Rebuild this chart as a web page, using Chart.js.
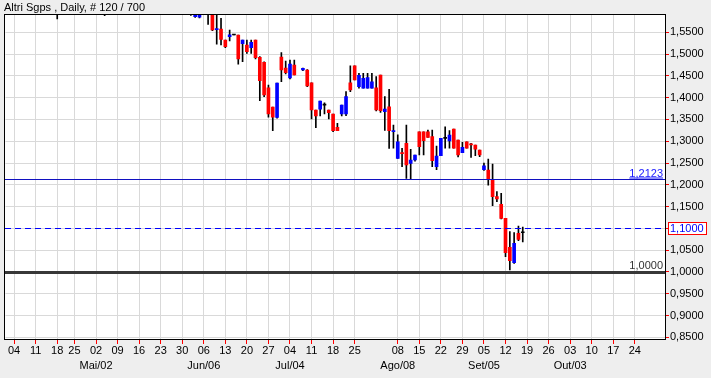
<!DOCTYPE html>
<html>
<head>
<meta charset="utf-8">
<script src="https://cdn.jsdelivr.net/npm/chart.js@4/dist/chart.umd.min.js"></script>
<style>
  html, body { margin: 0; padding: 0; background: #eeeeee; }
  canvas { display: block; }
</style>
</head>
<body>
<canvas id="candles" width="711" height="378"></canvas>
<script>
// trading days shown on the axis (2011)
var tradingDays = {
    '2011-03': [31],
    '2011-04': [1, 4, 5, 6, 7, 8, 11, 12, 13, 14, 15, 18, 19, 20, 21, 25, 26, 27, 28, 29],
    '2011-05': [2, 3, 4, 5, 6, 9, 10, 11, 12, 13, 16, 17, 18, 19, 20, 23, 24, 25, 26, 27, 30, 31],
    '2011-06': [1, 2, 3, 6, 7, 8, 9, 10, 13, 14, 15, 16, 17, 20, 21, 22, 23, 24, 27, 28, 29, 30],
    '2011-07': [1, 4, 5, 6, 7, 8, 11, 12, 13, 14, 15, 18, 19, 20, 21, 22, 25, 26, 27, 28, 29],
    '2011-08': [1, 2, 3, 4, 5, 8, 9, 10, 11, 12, 15, 16, 17, 18, 19, 22, 23, 24, 25, 26, 29, 30, 31],
    '2011-09': [1, 2, 5, 6, 7, 8, 9, 12, 13, 14, 15, 16, 19, 20, 21, 22, 23, 26, 27, 28, 29, 30],
    '2011-10': [3, 4, 5, 6, 7, 10, 11, 12, 13, 14, 17, 18, 19, 20, 21, 24, 25, 26, 27, 28, 31],
    '2011-11': [1, 2]
};

// labelled ticks (Mondays) and month captions
var tickDates = ['2011-04-04', '2011-04-11', '2011-04-18', '2011-04-25',
    '2011-05-02', '2011-05-09', '2011-05-16', '2011-05-23', '2011-05-30',
    '2011-06-06', '2011-06-13', '2011-06-20', '2011-06-27',
    '2011-07-04', '2011-07-11', '2011-07-18', '2011-07-25',
    '2011-08-08', '2011-08-15', '2011-08-22', '2011-08-29',
    '2011-09-05', '2011-09-12', '2011-09-19', '2011-09-26',
    '2011-10-03', '2011-10-10', '2011-10-17', '2011-10-24'];
var monthTickDates = ['2011-05-02', '2011-06-06', '2011-07-04', '2011-08-08', '2011-09-05', '2011-10-03'];
var monthTickNames = ['Mai/02', 'Jun/06', 'Jul/04', 'Ago/08', 'Set/05', 'Out/03'];

var yTicks = [0.85, 0.90, 0.95, 1.00, 1.05, 1.10, 1.15, 1.20, 1.25, 1.30, 1.35, 1.40, 1.45, 1.50, 1.55];
var refLevels = [1.2123, 1.1000, 1.0000];

// OHLC, one entry per day starting 2011-04-01 (120 bars)
var opens = [
    1.650, 1.655, 1.660, 1.672, 1.665, 1.645, 1.630, 1.615, 1.625, 1.640,
    1.625, 1.615, 1.600, 1.620, 1.635, 1.645, 1.650, 1.665, 1.655, 1.640,
    1.625, 1.630, 1.605, 1.598, 1.620, 1.640, 1.655, 1.670, 1.680, 1.670,
    1.655, 1.660, 1.668, 1.660, 1.645, 1.650, 1.645, 1.630, 1.620, 1.630,
    1.615, 1.605, 1.600, 1.586, 1.585, 1.600, 1.610, 1.600, 1.556, 1.5576,
    1.5323, 1.540, 1.5438, 1.5438, 1.5238, 1.5209, 1.5147, 1.5323, 1.4926, 1.4811,
    1.4228, 1.3785, 1.3549, 1.4933, 1.4680, 1.4451, 1.4750, null, 1.4635, 1.4635,
    1.4343, 1.3717, 1.3733, 1.3830, 1.3717, 1.3625, 1.3320, 1.3625, 1.3625, 1.4343,
    1.4733, 1.4251, 1.4215, 1.4215, 1.4215, 1.4228, 1.4520, 1.3677, 1.3792, 1.3220,
    1.2608, 1.2730, 1.2952, 1.2493, 1.2569, 1.3218, 1.3218, 1.3218, 1.3104, 1.2415,
    1.2668, 1.3067, 1.3005, 1.3281, 1.3028, 1.2737, 1.2989, 1.2929, 1.2913, 1.2799,
    1.2346, 1.2340, 1.2126, 1.1727, 1.1552, 1.1231, 1.0565, 1.0212, 1.0887, 1.0900
];
var highs = [
    1.665, 1.670, 1.680, 1.685, 1.675, 1.655, 1.640, 1.630, 1.645, 1.650,
    1.635, 1.620, 1.625, 1.640, 1.650, 1.660, 1.670, 1.680, 1.665, 1.650,
    1.640, 1.635, 1.615, 1.625, 1.645, 1.660, 1.675, 1.690, 1.695, 1.680,
    1.665, 1.675, 1.680, 1.670, 1.655, 1.665, 1.650, 1.640, 1.635, 1.640,
    1.625, 1.615, 1.610, 1.600, 1.602, 1.615, 1.620, 1.605, 1.598, 1.5821,
    1.5323, 1.5553, 1.5438, 1.5438, 1.5323, 1.5323, 1.5323, 1.5323, 1.4940, 1.4825,
    1.4290, 1.3785, 1.4336, 1.5032, 1.4841, 1.4864, 1.4864, null, 1.4680, 1.4645,
    1.4343, 1.3717, 1.3923, 1.3884, 1.3717, 1.3625, 1.3411, 1.3831, 1.4137, 1.4733,
    1.4733, 1.4559, 1.4559, 1.4559, 1.4559, 1.4481, 1.4520, 1.4022, 1.4192, 1.3370,
    1.3149, 1.2838, 1.3372, 1.2815, 1.2684, 1.3218, 1.3218, 1.3253, 1.3258, 1.2890,
    1.3067, 1.3333, 1.3242, 1.3281, 1.3028, 1.2976, 1.2989, 1.2952, 1.2913, 1.2799,
    1.2499, 1.2592, 1.2478, 1.1842, 1.1805, 1.1231, 1.0924, 1.0901, 1.1054, 1.1030
];
var lows = [
    1.640, 1.645, 1.650, 1.660, 1.640, 1.625, 1.610, 1.600, 1.615, 1.620,
    1.605, 1.5805, 1.595, 1.612, 1.625, 1.630, 1.640, 1.650, 1.635, 1.620,
    1.610, 1.600, 1.588, 1.595, 1.615, 1.630, 1.645, 1.660, 1.665, 1.650,
    1.640, 1.650, 1.655, 1.640, 1.630, 1.640, 1.625, 1.615, 1.610, 1.612,
    1.600, 1.596, 1.5886, 1.584, 1.583, 1.594, 1.568, 1.5537, 1.5225, 1.5209,
    1.5147, 1.530, 1.5438, 1.4766, 1.4825, 1.5018, 1.5018, 1.4887, 1.3930, 1.4022,
    1.3550, 1.3242, 1.3530, 1.4366, 1.4543, 1.4428, 1.4520, null, 1.4620, 1.4250,
    1.3510, 1.3310, 1.3579, 1.3625, 1.3510, 1.3218, 1.3242, 1.3579, 1.3586, 1.4137,
    1.4405, 1.4215, 1.4215, 1.4215, 1.4215, 1.3694, 1.3660, 1.3250, 1.2837, 1.2840,
    1.2608, 1.2415, 1.2149, 1.2133, 1.2540, 1.2684, 1.2684, 1.3090, 1.2415, 1.2350,
    1.2668, 1.2838, 1.2838, 1.2838, 1.2640, 1.2737, 1.2838, 1.2631, 1.2668, 1.2645,
    1.2330, 1.1994, 1.1520, 1.1612, 1.1215, 1.0350, 1.0045, 1.0198, 1.0717, 1.0690
];
var closes = [
    1.655, 1.660, 1.672, 1.665, 1.645, 1.630, 1.615, 1.625, 1.640, 1.625,
    1.610, 1.600, 1.620, 1.635, 1.645, 1.650, 1.665, 1.655, 1.640, 1.625,
    1.630, 1.605, 1.598, 1.620, 1.640, 1.655, 1.670, 1.680, 1.670, 1.655,
    1.660, 1.668, 1.660, 1.645, 1.650, 1.645, 1.630, 1.620, 1.630, 1.615,
    1.605, 1.600, 1.596, 1.598, 1.596, 1.610, 1.600, 1.5553, 1.557, 1.5339,
    1.517, 1.544, 1.5438, 1.4887, 1.5323, 1.5055, 1.5270, 1.4917, 1.4389, 1.4061,
    1.3625, 1.3550, 1.4336, 1.4635, 1.4573, 1.4772, 1.4520, null, 1.4674, 1.4268,
    1.3717, 1.3579, 1.3923, 1.3830, 1.3655, 1.3242, 1.3242, 1.3831, 1.4022, 1.4176,
    1.4405, 1.4513, 1.4444, 1.4458, 1.4366, 1.3717, 1.3700, 1.3740, 1.3242, 1.3240,
    1.2989, 1.2715, 1.2454, 1.2569, 1.2684, 1.2874, 1.3012, 1.3090, 1.2553, 1.2661,
    1.3067, 1.3067, 1.3143, 1.2838, 1.2684, 1.2861, 1.2838, 1.2915, 1.2815, 1.2684,
    1.2437, 1.2126, 1.1727, 1.1674, 1.1231, 1.0442, 1.0258, 1.0657, 1.0749, 1.0900
];

document.addEventListener("DOMContentLoaded", function () {
    var labels = [];
    Object.keys(tradingDays).forEach(function (m) {
        tradingDays[m].forEach(function (d) {
            labels.push(m + '-' + (d < 10 ? '0' + d : d));
        });
    });
    var firstBar = labels.indexOf('2011-04-01');

    var wicks = [], bodies = [], bodyColors = [];
    for (var i = 0; i < opens.length; i++) {
        if (opens[i] === null) continue;
        var day = labels[firstBar + i];
        wicks.push({ x: day, y: [lows[i], highs[i]] });
        bodies.push({ x: day, y: [opens[i], closes[i]] });
        bodyColors.push(closes[i] > opens[i] ? '#0000ff' : (closes[i] < opens[i] ? '#ff0000' : '#000000'));
    }

    var fmt = function (v) { return v.toFixed(4).replace('.', ','); };
    var font = { family: "'Liberation Sans', Arial, sans-serif", size: 11 };

    var frame = {
        id: 'frame',
        beforeDraw: function (chart) {
            var c = chart.ctx, a = chart.chartArea;
            c.save();
            c.fillStyle = '#eeeeee';
            c.fillRect(0, 0, chart.width, chart.height);
            c.fillStyle = '#ffffff';
            c.fillRect(4, a.top, a.right - 4, a.bottom - a.top);
            c.restore();
        },
        afterDatasetsDraw: function (chart) {
            var c = chart.ctx, a = chart.chartArea, y = chart.scales.y;
            c.save();
            c.font = "11px 'Liberation Sans', Arial, sans-serif";
            c.textAlign = 'right';
            c.textBaseline = 'alphabetic';

            // 1,2123
            var p = Math.round(y.getPixelForValue(refLevels[0])) + 0.5;
            c.strokeStyle = '#1010c0';
            c.lineWidth = 1;
            c.beginPath(); c.moveTo(4, p); c.lineTo(a.right, p); c.stroke();
            c.fillStyle = '#1a1aff';
            var t = fmt(refLevels[0]), w = c.measureText(t).width;
            c.fillText(t, 663, p - 3);
            c.strokeStyle = '#1a1aff';
            c.beginPath(); c.moveTo(663 - w, p - 1.5); c.lineTo(663, p - 1.5); c.stroke();

            // 1,1000 dashed
            p = Math.round(y.getPixelForValue(refLevels[1])) + 0.5;
            c.strokeStyle = '#0000ff';
            c.setLineDash([6, 4]);
            c.beginPath(); c.moveTo(5, p); c.lineTo(a.right, p); c.stroke();
            c.setLineDash([]);

            // 1,0000 thick
            p = Math.round(y.getPixelForValue(refLevels[2]));
            c.strokeStyle = '#383838';
            c.lineWidth = 3;
            c.beginPath(); c.moveTo(4, p + 0.5); c.lineTo(a.right, p + 0.5); c.stroke();
            c.fillStyle = '#333333';
            t = fmt(refLevels[2]);
            c.fillText(t, 663, p - 3);
            c.restore();
        },
        afterDraw: function (chart) {
            var c = chart.ctx, a = chart.chartArea, y = chart.scales.y;
            c.save();
            c.strokeStyle = '#000000';
            c.lineWidth = 1;
            c.strokeRect(4.5, a.top + 0.5, a.right - 4, a.bottom - a.top - 1);

            // value box on the axis
            var p = Math.round(y.getPixelForValue(refLevels[1]));
            c.fillStyle = '#ffffff';
            c.fillRect(668, p - 6, 39, 13);
            c.strokeStyle = '#ff0000';
            c.strokeRect(668.5, p - 5.5, 38, 12);
            c.fillStyle = '#0000ff';
            c.font = "11px 'Liberation Sans', Arial, sans-serif";
            c.textBaseline = 'middle';
            c.fillText(fmt(refLevels[1]), 670, p + 0.5);

            // title
            c.fillStyle = '#000000';
            c.textBaseline = 'alphabetic';
            c.fillText('Altri Sgps , Daily, # 120 / 700', 4, 11);
            c.restore();
        }
    };

    var ctx = document.getElementById('candles').getContext('2d');
    var chart = new Chart(ctx, {
        type: 'bar',
        data: {
            labels: labels,
            datasets: [{
                label: 'body',
                data: bodies,
                backgroundColor: bodyColors,
                barThickness: 3,
                minBarLength: 1,
                grouped: false,
                order: 0
            }, {
                label: 'wick',
                data: wicks,
                backgroundColor: '#000000',
                barThickness: 1,
                grouped: false,
                order: 1
            }]
        },
        options: {
            responsive: false,
            animation: false,
            devicePixelRatio: 1,
            layout: { padding: { left: 5.5, top: 14, right: 0, bottom: 0 } },
            plugins: {
                legend: { display: false },
                tooltip: { enabled: false },
                title: { display: false }
            },
            scales: {
                x: {
                    type: 'category',
                    offset: false,
                    border: { display: false },
                    grid: { offset: false, color: '#d9d9d9', tickColor: '#ff0000', tickLength: 4 },
                    afterBuildTicks: function (scale) {
                        scale.ticks = tickDates.map(function (d) { return { value: labels.indexOf(d) }; });
                    },
                    afterFit: function (scale) { scale.height = 38; },
                    ticks: {
                        autoSkip: false,
                        maxRotation: 0,
                        padding: 0,
                        color: '#000000',
                        font: { family: font.family, size: 11, lineHeight: 1.32 },
                        callback: function (value) {
                            var d = this.getLabelForValue(value);
                            var k = monthTickDates.indexOf(d);
                            return k >= 0 ? [d.slice(8), monthTickNames[k]] : d.slice(8);
                        }
                    }
                },
                y: {
                    type: 'linear',
                    position: 'right',
                    min: 0.8438,
                    max: 1.592,
                    border: { display: false },
                    grid: { color: '#d9d9d9', tickColor: '#ff0000', tickLength: 4 },
                    afterBuildTicks: function (scale) {
                        scale.ticks = yTicks.map(function (v) { return { value: v }; });
                    },
                    afterFit: function (scale) { scale.width = 46; },
                    ticks: {
                        padding: 1,
                        color: '#000000',
                        font: font,
                        callback: function (v) { return fmt(v); }
                    }
                }
            }
        },
        plugins: [frame]
    });
});
</script>
</body>
</html>
